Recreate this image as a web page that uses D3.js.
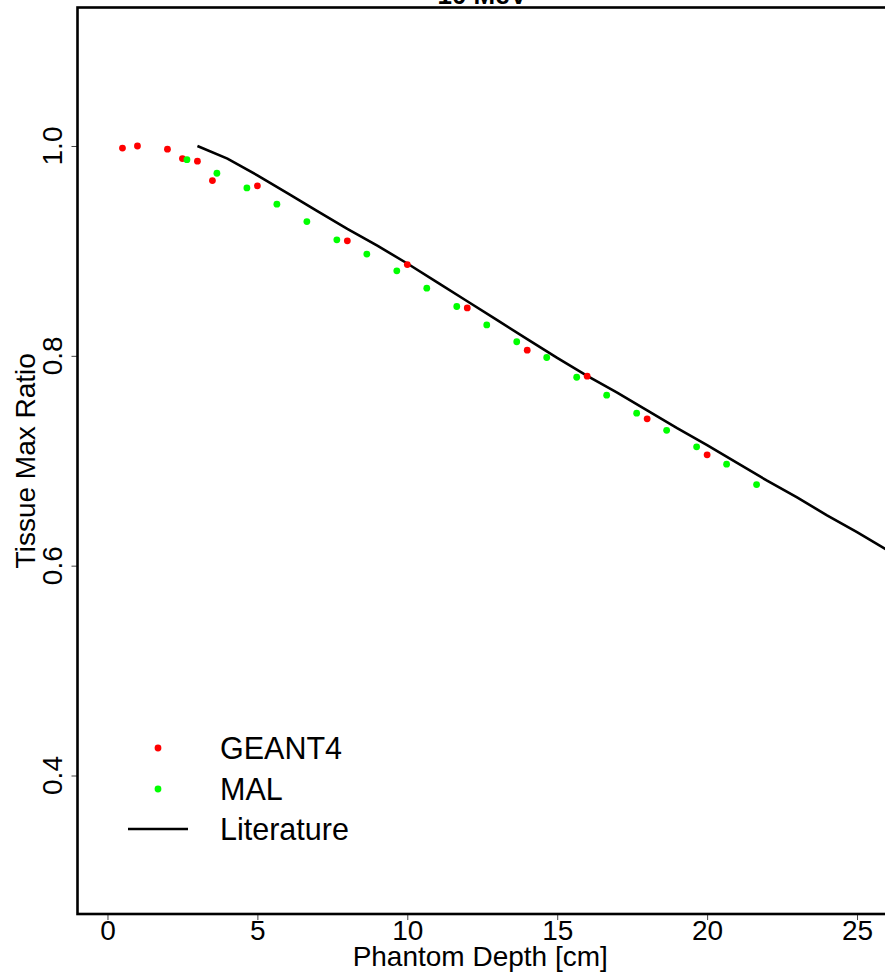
<!DOCTYPE html>
<html>
<head>
<meta charset="utf-8">
<script src="https://cdn.jsdelivr.net/npm/d3@7"></script>
<style>
  html, body { margin: 0; padding: 0; background: #fff; }
  svg { display: block; font-family: "Liberation Sans", Arial, sans-serif; }
</style>
</head>
<body>
<svg id="chart" width="885" height="975"></svg>
<script>
// ---- data ----
const title = "10 MeV";
const xLabel = "Phantom Depth [cm]";
const yLabel = "Tissue Max Ratio";
const xTicks = [0, 5, 10, 15, 20, 25];
const yTicks = [0.4, 0.6, 0.8, 1.0];

const geantDepth = [0.5, 1, 2, 2.5, 3, 3.5, 5, 8, 10, 12, 14, 16, 18, 20];
const geantTMR   = [0.998, 1.0, 0.997, 0.988, 0.9855, 0.967, 0.962, 0.9096, 0.887, 0.8457, 0.8054, 0.7806, 0.740, 0.7056];

const malDepth = [2.65, 3.65, 4.65, 5.65, 6.65, 7.65, 8.65, 9.65, 10.65, 11.65, 12.65, 13.65, 14.65, 15.65, 16.65, 17.65, 18.65, 19.65, 20.65, 21.65];
const malTMR   = [0.987, 0.974, 0.960, 0.9445, 0.928, 0.9106, 0.897, 0.881, 0.8645, 0.847, 0.8295, 0.8134, 0.7984, 0.7796, 0.7625, 0.7453, 0.729, 0.7133, 0.6967, 0.6773];

const litDepth = [3, 4, 5, 6, 7, 8, 9, 10, 11, 12, 13, 14, 15, 16, 17, 18, 19, 20, 21, 22, 23, 24, 25, 26, 27];
const litTMR   = [1.0, 0.988, 0.972, 0.955, 0.938, 0.921, 0.905, 0.888, 0.870, 0.852, 0.834, 0.816, 0.798, 0.781, 0.765, 0.748, 0.731, 0.715, 0.698, 0.681, 0.665, 0.648, 0.632, 0.615, 0.599];

const legendLabels = ["GEANT4", "MAL", "Literature"];
const legendColors = ["#ff0000", "#00ff00", "#000000"];

// ---- layout ----
const svg = d3.select("#chart");
const plot = { left: 77.5, right: 887, top: 7.5, bottom: 914 };

const x = d3.scaleLinear().domain([-1, 26]).range([plot.left, plot.right]);
const y = d3.scaleLinear().domain([0.268, 1.132]).range([plot.bottom, plot.top]);

svg.append("defs").append("clipPath").attr("id", "clip")
  .append("rect").attr("x", plot.left).attr("y", plot.top)
  .attr("width", plot.right - plot.left).attr("height", plot.bottom - plot.top);

// title (partially clipped at top, as in the reference)
svg.append("text").attr("x", (plot.left + plot.right) / 2).attr("y", 4)
  .attr("text-anchor", "middle").attr("font-size", 26).attr("font-weight", "bold")
  .text(title);

// x axis
const xAxis = svg.append("g").attr("transform", `translate(0,${plot.bottom})`)
  .call(d3.axisBottom(x).tickValues(xTicks).tickSize(6).tickPadding(0).tickFormat(d3.format("d")));
xAxis.select(".domain").remove();
xAxis.selectAll(".tick line").attr("stroke", "#444").attr("stroke-width", 1);
xAxis.selectAll(".tick text").attr("font-size", 28).attr("fill", "#000")
  .attr("font-family", "Liberation Sans, Arial, sans-serif");

// y axis
const yAxis = svg.append("g").attr("transform", `translate(${plot.left},0)`)
  .call(d3.axisLeft(y).tickValues(yTicks).tickSize(6).tickFormat(d3.format(".1f")));
yAxis.select(".domain").remove();
yAxis.selectAll(".tick line").attr("stroke", "#444").attr("stroke-width", 1);
yAxis.selectAll(".tick text").remove();
svg.append("g").selectAll("text").data(yTicks).join("text")
  .attr("transform", d => `translate(62,${y(d)}) rotate(-90)`)
  .attr("text-anchor", "middle").attr("font-size", 28)
  .text(d => d3.format(".1f")(d));

// axis titles
svg.append("text").attr("x", (plot.left + plot.right) / 2 - 2).attr("y", 966)
  .attr("text-anchor", "middle").attr("font-size", 28).text(xLabel);
svg.append("text").attr("transform", `translate(35,${(plot.top + plot.bottom) / 2}) rotate(-90)`)
  .attr("text-anchor", "middle").attr("font-size", 28).text(yLabel);

// literature line
const lit = litDepth.map((d, i) => [d, litTMR[i]]);
svg.append("path").datum(lit).attr("clip-path", "url(#clip)")
  .attr("fill", "none").attr("stroke", "#000").attr("stroke-width", 2.6)
  .attr("d", d3.line().x(d => x(d[0])).y(d => y(d[1])));

// points
const geant = geantDepth.map((d, i) => [d, geantTMR[i]]);
const mal = malDepth.map((d, i) => [d, malTMR[i]]);
svg.append("g").selectAll("circle").data(geant).join("circle")
  .attr("cx", d => x(d[0])).attr("cy", d => y(d[1])).attr("r", 3.4).attr("fill", legendColors[0]);
svg.append("g").selectAll("circle").data(mal).join("circle")
  .attr("cx", d => x(d[0])).attr("cy", d => y(d[1])).attr("r", 3.4).attr("fill", legendColors[1]);

// plot box
svg.append("rect").attr("x", plot.left).attr("y", plot.top)
  .attr("width", plot.right - plot.left).attr("height", plot.bottom - plot.top)
  .attr("fill", "none").attr("stroke", "#000").attr("stroke-width", 2.6);

// legend
const legRows = [748, 789, 829];
const leg = svg.append("g");
legendLabels.forEach((lab, i) => {
  if (i < 2) {
    leg.append("circle").attr("cx", 158).attr("cy", legRows[i]).attr("r", 3.4).attr("fill", legendColors[i]);
  } else {
    leg.append("line").attr("x1", 128).attr("x2", 188).attr("y1", legRows[i]).attr("y2", legRows[i])
      .attr("stroke", "#000").attr("stroke-width", 2.6);
  }
  leg.append("text").attr("x", 220).attr("y", legRows[i]).attr("dy", "0.36em")
    .attr("font-size", 30.5).text(lab);
});
</script>
</body>
</html>
